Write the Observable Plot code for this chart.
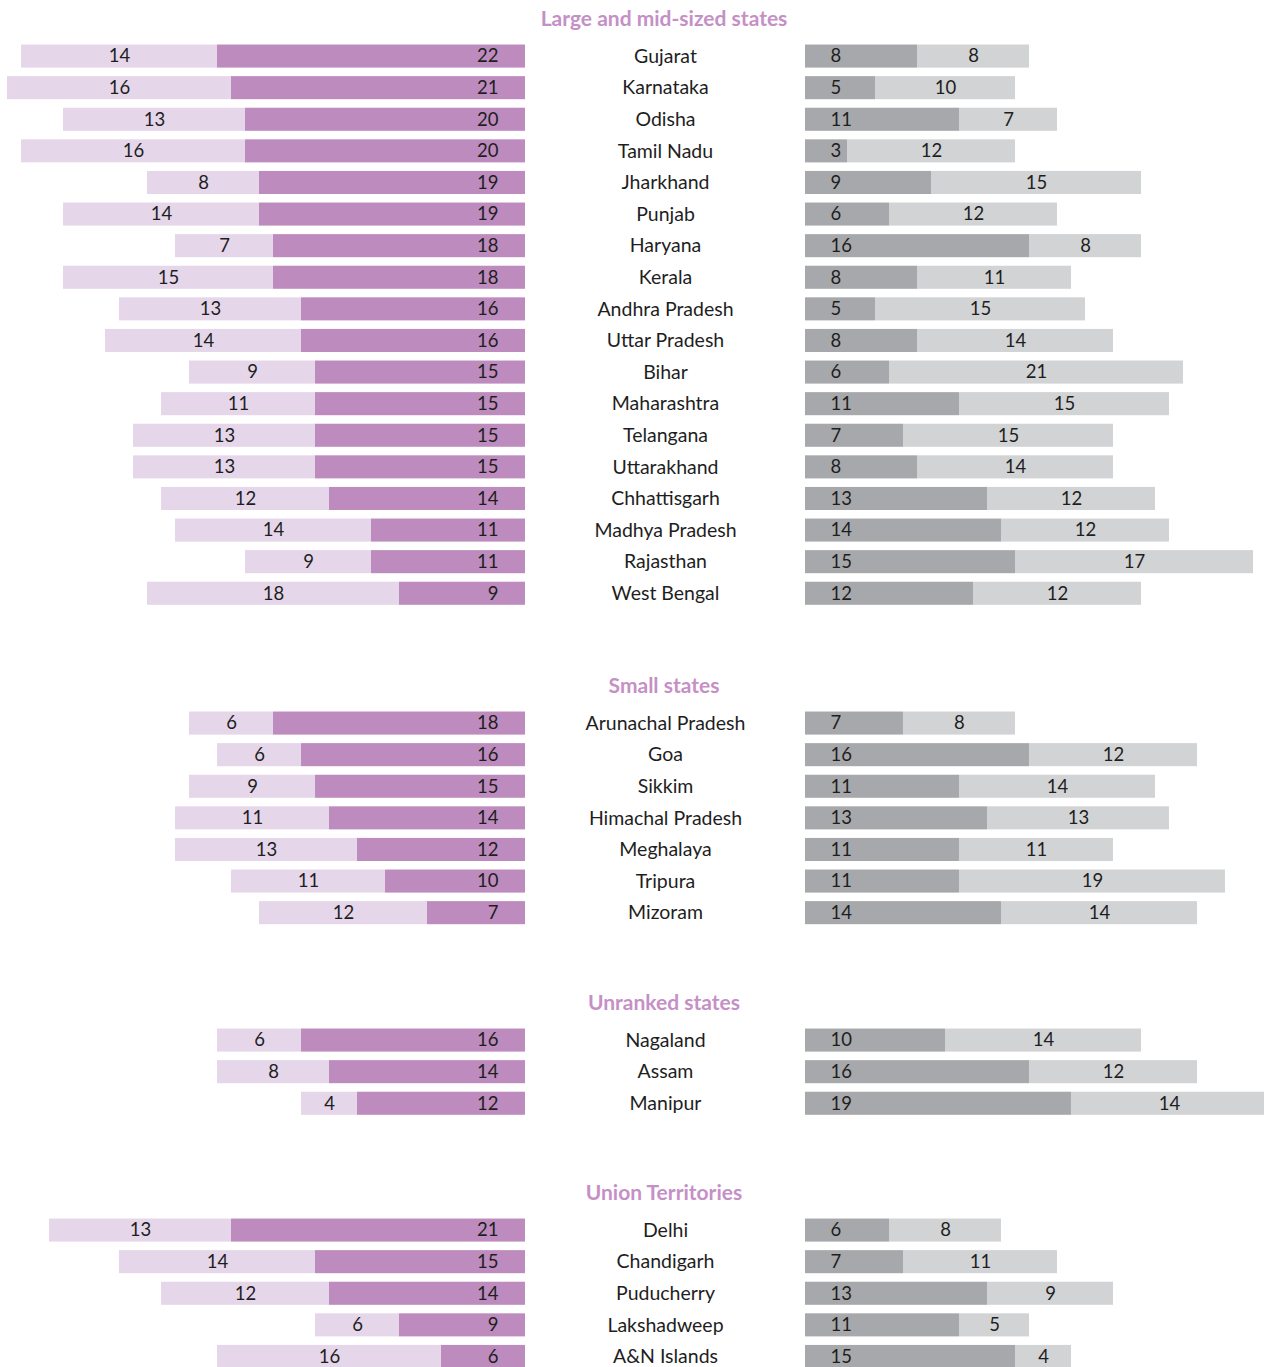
<!DOCTYPE html>
<html>
<head>
<meta charset="utf-8">
<script src="https://cdn.jsdelivr.net/npm/d3@7"></script>
<script src="https://cdn.jsdelivr.net/npm/@observablehq/plot@0.6"></script>
<style>
  html, body { margin: 0; padding: 0; background: #fff; overflow: hidden; }
  #root { width: 1264px; }
  .title { box-sizing: border-box; width: 1264px; padding-left: 64px; text-align: center;
           font-family: Lato, "Open Sans", sans-serif; font-weight: 700; font-size: 21px;
           line-height: 24px; height: 24px; color: #c590c6; }
  .chart svg { display: block; overflow: hidden; }
</style>
</head>
<body>
<div id="root"></div>
<script>
// ---- Data ----
const largeStates = ["Gujarat","Karnataka","Odisha","Tamil Nadu","Jharkhand","Punjab","Haryana","Kerala","Andhra Pradesh","Uttar Pradesh","Bihar","Maharashtra","Telangana","Uttarakhand","Chhattisgarh","Madhya Pradesh","Rajasthan","West Bengal"];
const largeDarkPurple  = [22,21,20,20,19,19,18,18,16,16,15,15,15,15,14,11,11,9];
const largeLightPurple = [14,16,13,16,8,14,7,15,13,14,9,11,13,13,12,14,9,18];
const largeDarkGray    = [8,5,11,3,9,6,16,8,5,8,6,11,7,8,13,14,15,12];
const largeLightGray   = [8,10,7,12,15,12,8,11,15,14,21,15,15,14,12,12,17,12];

const smallStates = ["Arunachal Pradesh","Goa","Sikkim","Himachal Pradesh","Meghalaya","Tripura","Mizoram"];
const smallDarkPurple  = [18,16,15,14,12,10,7];
const smallLightPurple = [6,6,9,11,13,11,12];
const smallDarkGray    = [7,16,11,13,11,11,14];
const smallLightGray   = [8,12,14,13,11,19,14];

const unrankedStates = ["Nagaland","Assam","Manipur"];
const unrankedDarkPurple  = [16,14,12];
const unrankedLightPurple = [6,8,4];
const unrankedDarkGray    = [10,16,19];
const unrankedLightGray   = [14,12,14];

const utNames = ["Delhi","Chandigarh","Puducherry","Lakshadweep","A&N Islands"];
const utDarkPurple  = [21,15,14,9,6];
const utLightPurple = [13,14,12,6,16];
const utDarkGray    = [6,7,13,11,15];
const utLightGray   = [8,11,9,5,4];

const sections = [
  {title: "Large and mid-sized states", names: largeStates, dp: largeDarkPurple, lp: largeLightPurple, dg: largeDarkGray, lg: largeLightGray},
  {title: "Small states", names: smallStates, dp: smallDarkPurple, lp: smallLightPurple, dg: smallDarkGray, lg: smallLightGray},
  {title: "Unranked states", names: unrankedStates, dp: unrankedDarkPurple, lp: unrankedLightPurple, dg: unrankedDarkGray, lg: unrankedLightGray},
  {title: "Union Territories", names: utNames, dp: utDarkPurple, lp: utLightPurple, dg: utDarkGray, lg: utLightGray}
];

// ---- Styling / layout ----
const C = {darkPurple: "#bd8bbd", lightPurple: "#e5d6ea", darkGray: "#a7a8ab", lightGray: "#d2d3d5", text: "#1e1e1e"};
const W = 1264;
const pxPerUnit = 14;
const zeroPx = 525;       // where left bars end
const gap = 20;           // units between left zero and right bar start
const step = 31.6;
const pad = 0.27;
const font = "Lato, 'Open Sans', sans-serif";
const sectionGaps = [6, 60, 57, 57];

const root = document.getElementById("root");

sections.forEach((s, si) => {
  const rows = s.names.map((name, i) => ({name, dp: s.dp[i], lp: s.lp[i], dg: s.dg[i], lg: s.lg[i]}));
  const t = document.createElement("div");
  t.className = "title";
  t.textContent = s.title;
  t.style.marginTop = sectionGaps[si] + "px";
  t.style.marginBottom = "6px";
  root.appendChild(t);

  const n = rows.length;
  const chart = Plot.plot({
    width: W,
    height: step * (n + pad),
    margin: 0,
    style: {fontFamily: font, fontSize: "18px", background: "white", overflow: "hidden"},
    x: {domain: [-zeroPx / pxPerUnit, (W - zeroPx) / pxPerUnit], axis: null},
    y: {domain: s.names, padding: pad, round: false, axis: null},
    marks: [
      Plot.barX(rows, {y: "name", x1: d => -(d.dp + d.lp), x2: d => -d.dp, fill: C.lightPurple}),
      Plot.barX(rows, {y: "name", x1: d => -d.dp, x2: 0, fill: C.darkPurple}),
      Plot.barX(rows, {y: "name", x1: gap, x2: d => gap + d.dg, fill: C.darkGray}),
      Plot.barX(rows, {y: "name", x1: d => gap + d.dg, x2: d => gap + d.dg + d.lg, fill: C.lightGray}),
      Plot.text(rows, {y: "name", x: 0, text: d => String(d.dp), textAnchor: "end", dx: -27, fill: C.text, fontSize: 18.5}),
      Plot.text(rows, {y: "name", x: d => -(d.dp + d.lp / 2), text: d => String(d.lp), textAnchor: "middle", fill: C.text, fontSize: 18.5}),
      Plot.text(rows, {y: "name", x: gap / 2, text: "name", textAnchor: "middle", fill: C.text, fontSize: 19.5}),
      Plot.text(rows, {y: "name", x: gap, text: d => String(d.dg), textAnchor: "start", dx: 25, fill: C.text, fontSize: 18.5}),
      Plot.text(rows, {y: "name", x: d => gap + d.dg + d.lg / 2, text: d => String(d.lg), textAnchor: "middle", fill: C.text, fontSize: 18.5})
    ]
  });
  const wrap = document.createElement("div");
  wrap.className = "chart";
  wrap.appendChild(chart);
  root.appendChild(wrap);
});
</script>
</body>
</html>
